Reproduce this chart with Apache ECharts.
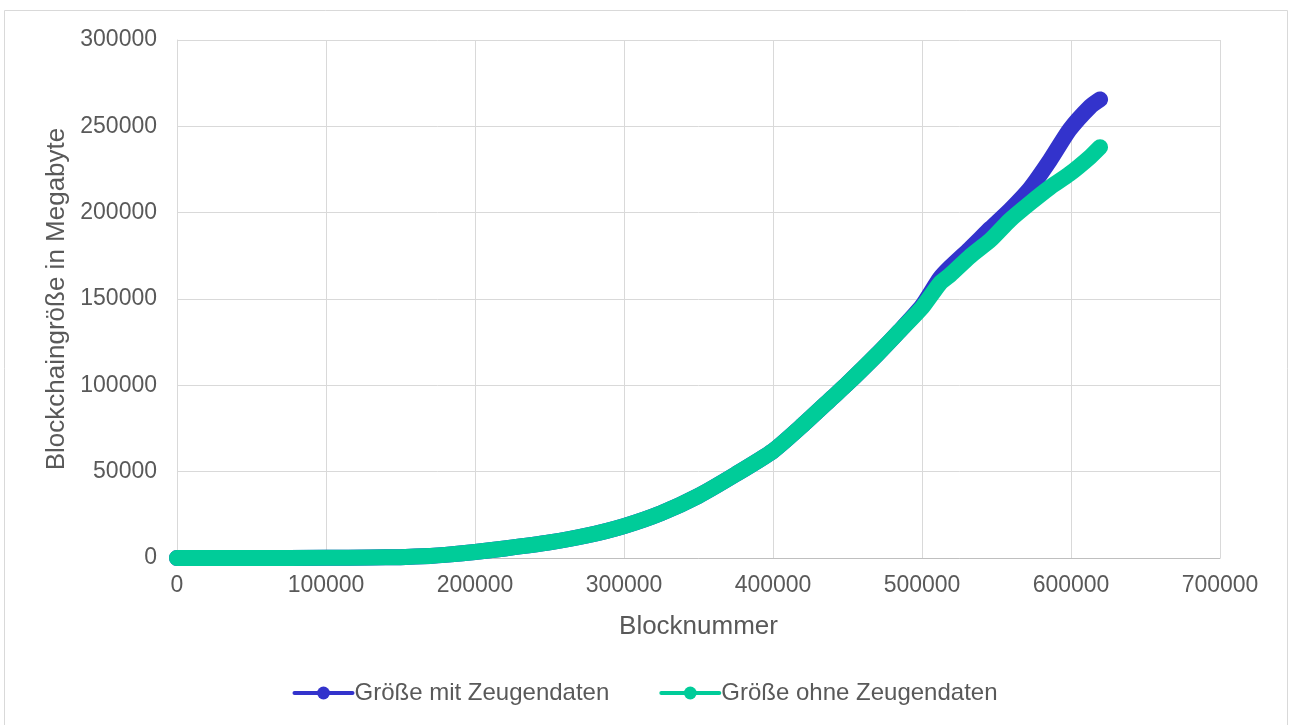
<!DOCTYPE html>
<html>
<head>
<meta charset="utf-8">
<script src="https://cdn.jsdelivr.net/npm/echarts@6/dist/echarts.min.js"></script>
<style>
  html, body { margin: 0; padding: 0; background: #ffffff; }
  #chart { width: 1290px; height: 725px; }
</style>
</head>
<body>
<div id="chart"></div>
<script>
// Block heights (x) and blockchain size in MB (y)
const blocks = [0, 50000, 100000, 130000, 150000, 170000, 180000, 200000, 220000, 250000,
  275000, 300000, 325000, 350000, 375000, 400000, 420000, 440000, 450000,
  470000, 485000, 500000, 512000, 519000, 532000, 546000, 559000, 572500, 586000,
  599000, 613000, 619500];

// Size including witness data
const sizeWithWitness = [0, 20, 100, 300, 500, 1200, 1800, 3500, 5500, 9000,
  13000, 18500, 26000, 36000, 48500, 62000, 77000, 93000, 101000,
  118000, 131500, 146000, 162000, 168500, 179000, 190900, 201500, 214000, 230500,
  248000, 261500, 265600];

// Size without witness data
const sizeWithoutWitness = [0, 20, 100, 300, 500, 1200, 1800, 3500, 5500, 9000,
  13000, 18500, 26000, 36000, 48500, 62000, 77000, 93000, 101000,
  118000, 131500, 145000, 159000, 164000, 174500, 184200, 195700, 205500, 214700,
  222400, 232400, 237900];

const xTicks = { min: 0, max: 700000, interval: 100000 };
const yTicks = { min: 0, max: 300000, interval: 50000 };

const seriesNames = ['Größe mit Zeugendaten', 'Größe ohne Zeugendaten'];
const seriesColors = ['#3333cc', '#00cc99'];

const pairs = ys => blocks.map((b, i) => [b, ys[i]]);
const plain = v => String(v);

const textColor = '#595959';
const fontFamily = '"Liberation Sans", Arial, sans-serif';

const chart = echarts.init(document.getElementById('chart'), null, { renderer: 'canvas' });

chart.setOption({
  animation: false,
  backgroundColor: '#ffffff',
  textStyle: { fontFamily: fontFamily, color: textColor },
  graphic: [{
    type: 'rect',
    shape: { x: 4.5, y: 10.5, width: 1283, height: 730 },
    style: { fill: 'none', stroke: '#d9d9d9', lineWidth: 1 },
    silent: true,
    z: -10
  }],
  grid: { left: 177, right: 70, top: 40, bottom: 167, containLabel: false },
  legend: {
    bottom: 15,
    left: 'center',
    itemWidth: 58,
    itemHeight: 16,
    itemGap: 50,
    lineStyle: { width: 4 },
    textStyle: { fontSize: 24, color: textColor, fontFamily: fontFamily, padding: [0, 0, 0, -3] },
    data: seriesNames
  },
  xAxis: {
    type: 'value',
    min: xTicks.min, max: xTicks.max, interval: xTicks.interval,
    name: 'Blocknummer',
    nameLocation: 'middle',
    nameGap: 56,
    nameTextStyle: { fontSize: 26, color: textColor, fontFamily: fontFamily },
    axisLine: { show: true, lineStyle: { color: '#bfbfbf', width: 1 } },
    axisTick: { show: false },
    axisLabel: { fontSize: 23, color: textColor, margin: 16, fontFamily: fontFamily, formatter: plain },
    splitLine: { show: true, lineStyle: { color: '#d9d9d9', width: 1 } }
  },
  yAxis: {
    type: 'value',
    min: yTicks.min, max: yTicks.max, interval: yTicks.interval,
    name: 'Blockchaingröße in Megabyte',
    nameLocation: 'middle',
    nameGap: 100,
    nameTextStyle: { fontSize: 26, color: textColor, fontFamily: fontFamily },
    axisLine: { show: true, lineStyle: { color: '#d9d9d9', width: 1 } },
    axisTick: { show: false },
    axisLabel: { fontSize: 23, color: textColor, margin: 20, fontFamily: fontFamily, formatter: plain },
    splitLine: { show: true, lineStyle: { color: '#d9d9d9', width: 1 } }
  },
  series: [0, 1].map(i => ({
    name: seriesNames[i],
    type: 'line',
    data: pairs(i === 0 ? sizeWithWitness : sizeWithoutWitness),
    smooth: 0.2,
    symbol: 'circle',
    symbolSize: 16,
    showSymbol: false,
    color: seriesColors[i],
    lineStyle: { width: 16, color: seriesColors[i], cap: 'round', join: 'round' },
    itemStyle: { color: seriesColors[i] },
    emphasis: { disabled: true },
    z: 2 + i
  }))
});
</script>
</body>
</html>
